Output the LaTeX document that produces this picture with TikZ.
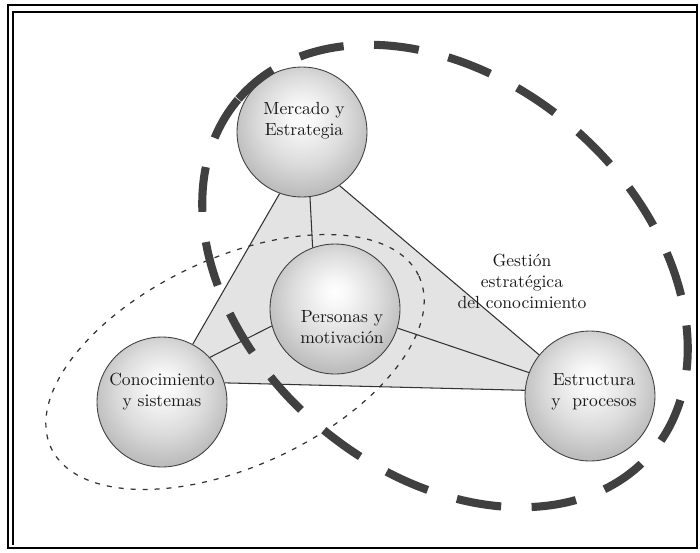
\documentclass[tikz,border=0pt]{standalone}
\usepackage{xcolor}
\usepackage{tikz}
\usetikzlibrary{positioning,backgrounds}

\pgfdeclareradialshading{sphere}{\pgfpoint{0bp}{7bp}}{color(0bp)=(white); color(5bp)=(gray!6); color(17bp)=(gray!28); color(27bp)=(gray!52); color(50bp)=(gray!60)}

\begin{document}
\begin{tikzpicture}[
    x=0.02cm, y=-0.02cm,
    ball/.style={circle, draw=black!75, line width=0.5pt, shading=sphere, minimum size=2.6cm, inner sep=0pt},
    lbl/.style={align=center, text=black!90},
    link/.style={draw=black!80, line width=0.6pt},
    bigring/.style={draw=black!75, line width=4.6pt, dash pattern=on 0.9cm off 0.61cm},
    smallring/.style={draw=black!80, line width=0.7pt, dash pattern=on 0.1cm off 0.14cm}
]
\useasboundingbox (0,0) rectangle (700,552);
\draw[line width=1.1pt] (8,5) rectangle (697,548);
\draw[line width=0.8pt] (13,545) -- (13,12) -- (697,12);

\node[ball] (mer) at (302,132) {};
\node[ball] (per) at (335,309) {};
\node[ball] (con) at (162,402) {};
\node[ball] (est) at (590,396) {};

\node[lbl] (merT) at ([shift={(2,-11)}]mer.center) {Mercado y\\Estrategia};
\node[lbl] (perT) at ([shift={(7,18)}]per.center) {Personas y\\motivación};
\node[lbl] (conT) at ([shift={(0,-10)}]con.center) {Conocimiento\\y sistemas};
\node[lbl] (estT) at ([shift={(4,-4)}]est.center) {Estructura\\y~~procesos};
\node[lbl] (gsc) at (522,281) {Gestión\\estratégica\\del conocimiento};

\begin{scope}[on background layer]
  \fill[gray!22] (mer.-110) -- (mer.-55) -- (est.141) -- (est.175) -- (con.17) -- (con.62) -- cycle;
  \draw[link] (mer.-110) -- (con.62);
  \draw[link] (mer.-55) -- (est.141);
  \draw[link] (con.17) -- (est.175);
  \draw[link] (mer.-83) -- (per.110);
  \draw[link] (per.-165) -- (con.43);
  \draw[link] (per.-17) -- (est.159);
\end{scope}

\draw[smallring] (235,362) circle [x radius=203, y radius=104, rotate=25];
\draw[bigring] (445,276) circle [x radius=272, y radius=196, rotate=139.4];
\end{tikzpicture}
\end{document}
